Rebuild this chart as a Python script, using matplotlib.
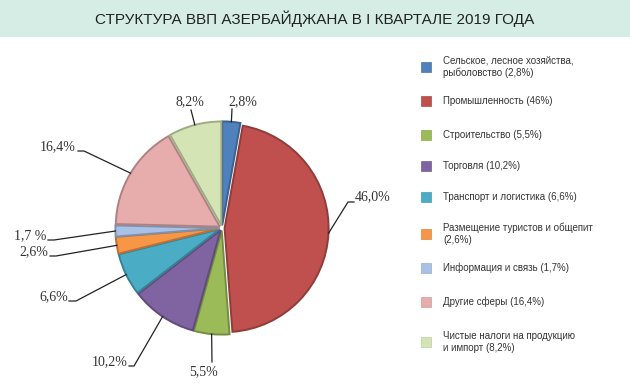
import numpy as np
import matplotlib
matplotlib.use("Agg")
import matplotlib.pyplot as plt
from matplotlib.patches import Rectangle
import matplotlib.colors as mcolors

# ---- data ----
title = "СТРУКТУРА ВВП АЗЕРБАЙДЖАНА В I КВАРТАЛЕ 2019 ГОДА"
categories = [
    "Сельское, лесное хозяйства,\nрыболовство (2,8%)",
    "Промышленность (46%)",
    "Строительство (5,5%)",
    "Торговля (10,2%)",
    "Транспорт и логистика (6,6%)",
    "Размещение туристов и общепит\n(2,6%)",
    "Информация и связь (1,7%)",
    "Другие сферы (16,4%)",
    "Чистые налоги на продукцию\nи импорт (8,2%)",
]
values = [2.8, 46.0, 5.5, 10.2, 6.6, 2.6, 1.7, 16.4, 8.2]
pct_labels = ["2,8%", "46,0%", "5,5%", "10,2%", "6,6%", "2,6%", "1,7 %", "16,4%", "8,2%"]
colors = ["#4f81bd", "#c0504d", "#9bbb59", "#8064a2", "#4bacc6",
          "#f79646", "#a9c1e6", "#e6adac", "#d4e4b4"]

# ---- layout (pixel coords, y measured from top) ----
W, H = 630, 385
pie_center = (222, 228)
pie_radius = 104
explode_frac = 0.025
# label text positions (x, y, ha)
label_pos = [(243, 102, "center"), (355, 197, "left"), (204, 372, "center"),
             (128, 362, "right"), (68, 297, "right"), (48, 252, "right"),
             (46, 236, "right"), (76, 147, "right"), (190, 102, "center")]
# leader line start point and elbow point
line_start = [(232, 109), (354, 202), (212, 362), (129, 366), (69, 301),
              (50, 256), (48, 240), (78, 151), (191, 110)]
line_elbow = [(232, 109), (348, 202), (212, 362), (134, 366), (76, 301),
              (56, 256), (54, 240), (84, 151), (191, 110)]
legend_y = [67, 101, 135, 166, 197, 234, 268, 302, 342]


def Y(y):
    return H - y


fig = plt.figure(figsize=(W / 100, H / 100), dpi=100)
ax = fig.add_axes([0, 0, 1, 1])

# title band
ax.add_patch(Rectangle((0, Y(37)), W, 37, facecolor="#d5ede4", edgecolor="none", zorder=0))
ax.text(W / 2, Y(19), title, ha="center", va="center", fontsize=11,
        family=["Liberation Sans", "DejaVu Sans"], color="#222222")


def darker(c, f=0.75):
    r, g, b = mcolors.to_rgb(c)
    return (r * f, g * f, b * f)


wedges, _ = ax.pie(values, colors=colors, startangle=90, counterclock=False,
                   center=(pie_center[0], Y(pie_center[1])), radius=pie_radius,
                   explode=[explode_frac * pie_radius] * len(values), frame=True,
                   wedgeprops=dict(linewidth=1.4))
for w, c in zip(wedges, colors):
    w.set_edgecolor(darker(c))
ax.set_xlim(0, W)
ax.set_ylim(0, H)
ax.set_aspect("equal")
ax.axis("off")

# labels with leader lines
for w, lab, (lx, ly, ha), (sx, sy), (bx, by) in zip(wedges, pct_labels, label_pos,
                                                    line_start, line_elbow):
    ang = np.deg2rad((w.theta1 + w.theta2) / 2)
    cx, cy = w.center
    ex = cx + w.r * np.cos(ang)
    ey = cy + w.r * np.sin(ang)
    ax.plot([sx, bx, ex], [Y(sy), Y(by), ey], color="#222222", lw=0.9, zorder=5)
    ax.text(lx, Y(ly), lab, ha=ha, va="center", fontsize=10,
            family=["Liberation Serif", "DejaVu Serif"], color="#333333")

# legend
for cat, c, ly in zip(categories, colors, legend_y):
    ax.add_patch(Rectangle((421, Y(ly) - 5), 10, 10, facecolor=c,
                           edgecolor=darker(c, 0.9), lw=0.5))
    ax.text(443, Y(ly), cat, ha="left", va="center", fontsize=7,
            family=["Liberation Sans", "DejaVu Sans"], color="#333333",
            linespacing=1.25)

fig.savefig("out.png", dpi=100)
